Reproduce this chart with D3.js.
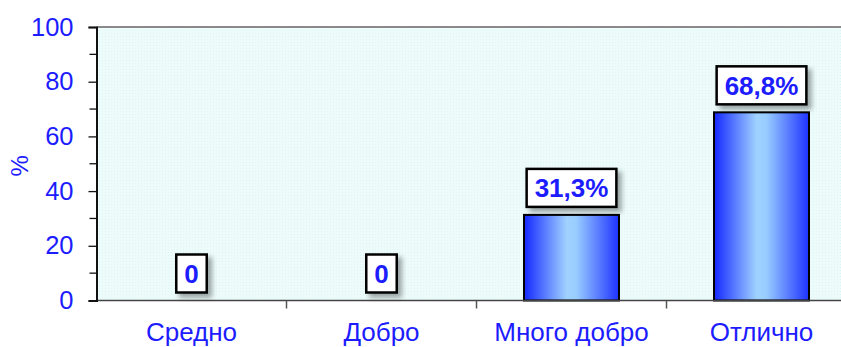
<!DOCTYPE html>
<html lang="bg">
<head>
<meta charset="UTF-8">
<title>Оценки</title>
<script src="https://d3js.org/d3.v7.min.js"></script>
<style>
    body { margin: 0; background: #fff; overflow: hidden; }
    svg { display: block; font-family: Arial, "Liberation Sans", sans-serif; }
</style>
</head>
<body>
<div id="chart"></div>
<script>
    // data
    const categories = ['Средно', 'Добро', 'Много добро', 'Отлично'];
    const values = [0, 0, 31.3, 68.8];
    const valueLabels = ['0', '0', '31,3%', '68,8%'];
    const yTicks = [0, 20, 40, 60, 80, 100];
    const yMinorTicks = [10, 30, 50, 70, 90];

    const width = 841, height = 347;
    const margin = { top: 27, left: 96.5, bottom: 46.5 };
    const plotW = 760;  // plot runs past the right edge in the original
    const blue = '#1c1cff';

    const svg = d3.select('#chart').append('svg')
        .attr('width', width)
        .attr('height', height);

    const defs = svg.append('defs');

    const grad = defs.append('linearGradient')
        .attr('id', 'barGrad')
        .attr('x1', '0%').attr('x2', '100%').attr('y1', '0%').attr('y2', '0%');
    grad.append('stop').attr('offset', '0%').attr('stop-color', '#1428ff');
    grad.append('stop').attr('offset', '45%').attr('stop-color', '#a0d2ff');
    grad.append('stop').attr('offset', '55%').attr('stop-color', '#98cdff');
    grad.append('stop').attr('offset', '100%').attr('stop-color', '#1e32ff');

    const pat = defs.append('pattern')
        .attr('id', 'bgDots')
        .attr('width', 3).attr('height', 3)
        .attr('patternUnits', 'userSpaceOnUse');
    pat.append('rect').attr('width', 3).attr('height', 3).attr('fill', '#edfbfb');
    pat.append('rect').attr('width', 1).attr('height', 1).attr('fill', '#dcf5f6');

    const shadow = defs.append('filter')
        .attr('id', 'shadow')
        .attr('x', '-30%').attr('y', '-30%').attr('width', '170%').attr('height', '170%');
    shadow.append('feDropShadow')
        .attr('dx', 4).attr('dy', 4).attr('stdDeviation', 2.5)
        .attr('flood-color', '#000').attr('flood-opacity', 0.35);

    const x = d3.scaleBand()
        .domain(categories)
        .range([margin.left, margin.left + plotW])
        .paddingInner(0.5)
        .paddingOuter(0.25);

    const y = d3.scaleLinear()
        .domain([0, 100])
        .range([height - margin.bottom, margin.top]);

    // plot background
    svg.append('rect')
        .attr('x', margin.left)
        .attr('y', margin.top)
        .attr('width', plotW)
        .attr('height', y(0) - margin.top)
        .attr('fill', 'url(#bgDots)');

    svg.append('line')
        .attr('x1', margin.left).attr('x2', margin.left + plotW)
        .attr('y1', margin.top).attr('y2', margin.top)
        .attr('stroke', '#8a8a8a').attr('stroke-width', 2);

    // bars
    svg.append('g')
        .selectAll('rect')
        .data(values)
        .join('rect')
        .attr('x', (d, i) => x(categories[i]))
        .attr('y', d => y(d))
        .attr('width', x.bandwidth())
        .attr('height', d => y(0) - y(d))
        .attr('fill', 'url(#barGrad)')
        .attr('stroke', '#000')
        .attr('stroke-width', 2)
        .style('display', d => d > 0 ? null : 'none');

    // x axis
    const xAxis = svg.append('g')
        .attr('transform', `translate(0,${y(0)})`);
    xAxis.append('line')
        .attr('x1', margin.left).attr('x2', margin.left + plotW)
        .attr('stroke', '#444').attr('stroke-width', 1.5);
    const step = x.step();
    xAxis.selectAll('.sep')
        .data(categories.slice(1))
        .join('line')
        .attr('x1', d => x(d) - step * 0.25).attr('x2', d => x(d) - step * 0.25)
        .attr('y1', 0).attr('y2', 8)
        .attr('stroke', '#555').attr('stroke-width', 1.5);
    xAxis.selectAll('text')
        .data(categories)
        .join('text')
        .attr('x', d => x(d) + x.bandwidth() / 2)
        .attr('y', 40)
        .attr('text-anchor', 'middle')
        .attr('fill', blue)
        .attr('font-size', 26)
        .text(d => d);

    // y axis
    const yAxis = svg.append('g')
        .attr('transform', `translate(${margin.left},0)`)
        .call(d3.axisLeft(y).tickValues(yTicks).tickSize(8).tickPadding(15));
    yAxis.select('.domain').attr('stroke', '#111').attr('stroke-width', 2);
    yAxis.selectAll('.tick line').attr('stroke', '#111').attr('stroke-width', 1.3);
    yAxis.selectAll('.tick text')
        .attr('fill', blue)
        .attr('font-size', 25.5)
        .attr('font-family', 'Arial, "Liberation Sans", sans-serif');
    yAxis.selectAll('.minor')
        .data(yMinorTicks)
        .join('line')
        .attr('class', 'minor')
        .attr('x1', -7).attr('x2', 0)
        .attr('y1', d => y(d)).attr('y2', d => y(d))
        .attr('stroke', '#111').attr('stroke-width', 1.3);

    svg.append('text')
        .attr('transform', `translate(28,${y(50) + 2}) rotate(-90)`)
        .attr('text-anchor', 'middle')
        .attr('fill', blue)
        .attr('font-size', 24)
        .text('%');

    // value labels
    const lab = svg.append('g')
        .selectAll('g')
        .data(values)
        .join('g')
        .attr('transform', (d, i) => `translate(${x(categories[i]) + x.bandwidth() / 2},${y(d) - 8})`);
    lab.append('text')
        .attr('class', 'vl')
        .attr('text-anchor', 'middle')
        .attr('y', -9.5)
        .attr('fill', blue)
        .attr('font-size', 26)
        .attr('font-weight', 'bold')
        .text((d, i) => valueLabels[i]);
    lab.each(function () {
        const g = d3.select(this);
        const bb = g.select('text').node().getBBox();
        const padX = 8;
        g.insert('rect', 'text')
            .attr('x', bb.x - padX)
            .attr('y', -38)
            .attr('width', bb.width + padX * 2)
            .attr('height', 38)
            .attr('fill', '#fff')
            .attr('stroke', '#000')
            .attr('stroke-width', 2.5)
            .attr('filter', 'url(#shadow)');
    });
</script>
</body>
</html>
